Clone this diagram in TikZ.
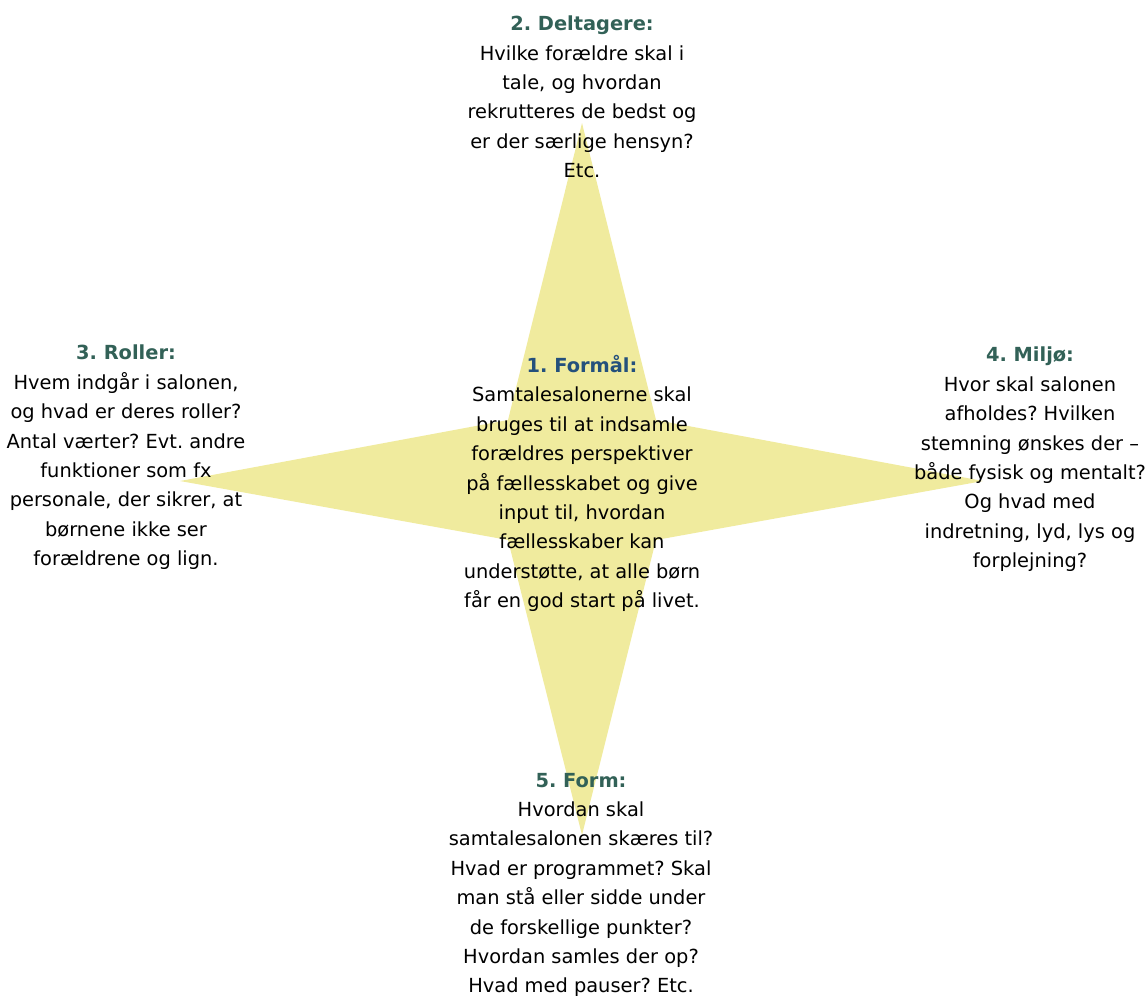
\documentclass[tikz,border=0pt]{standalone}
\usepackage{fontspec}
\setmainfont{DejaVu Sans}
\usetikzlibrary{positioning}
\definecolor{stjerne}{RGB}{240,235,158}
\definecolor{overskrift}{RGB}{50,97,87}
\definecolor{formaal}{RGB}{36,80,124}
\newcommand{\overskr}[2][overskrift]{\textbf{\color{#1}#2}}
\frenchspacing

\begin{document}
\begin{tikzpicture}[x=0.5pt,y=-0.5pt,
  punkt/.style={align=center,inner sep=0pt,font=\fontsize{9.7}{14.7}\selectfont}]
  \useasboundingbox (0,0) rectangle (1147,996);
  % stjernen
  \coordinate (top) at (582,123);
  \coordinate (bund) at (582,835);
  \coordinate (venstre) at (180,481);
  \coordinate (hoejre) at (983,481);
  \fill[stjerne] (top) -- (508,420) -- (venstre) -- (508,540) -- (bund)
    -- (656,540) -- (hoejre) -- (656,420) -- cycle;
  % tekster
  \node[punkt] (formaal) at (582,483.5) {\overskr[formaal]{1. Formål:}\\
    Samtalesalonerne skal\\ bruges til at indsamle\\ forældres perspektiver\\
    på fællesskabet og give\\ input til, hvordan\\ fællesskaber kan\\
    understøtte, at alle børn\\ får en god start på livet.};
  \node[punkt] (deltagere) at (582,97) {\overskr{2. Deltagere:}\\
    Hvilke forældre skal i\\ tale, og hvordan\\ rekrutteres de bedst og\\
    er der særlige hensyn?\\ Etc.};
  \node[punkt] (roller) at (126,457.5) {\overskr{3. Roller:}\\
    Hvem indgår i salonen,\\ og hvad er deres roller?\\ Antal værter? Evt. andre\\
    funktioner som fx\\ personale, der sikrer, at\\ børnene ikke ser\\ forældrene og lign.};
  \node[punkt] (miljoe) at (1030,459.5) {\overskr{4. Miljø:}\\
    Hvor skal salonen\\ afholdes? Hvilken\\ stemning ønskes der –\\
    både fysisk og mentalt?\\ Og hvad med\\ indretning, lyd, lys og\\ forplejning?};
  \node[punkt] (form) at (581,885) {\overskr{5. Form:}\\
    Hvordan skal\\ samtalesalonen skæres til?\\ Hvad er programmet? Skal\\
    man stå eller sidde under\\ de forskellige punkter?\\ Hvordan samles der op?\\
    Hvad med pauser? Etc.};
\end{tikzpicture}
\end{document}
